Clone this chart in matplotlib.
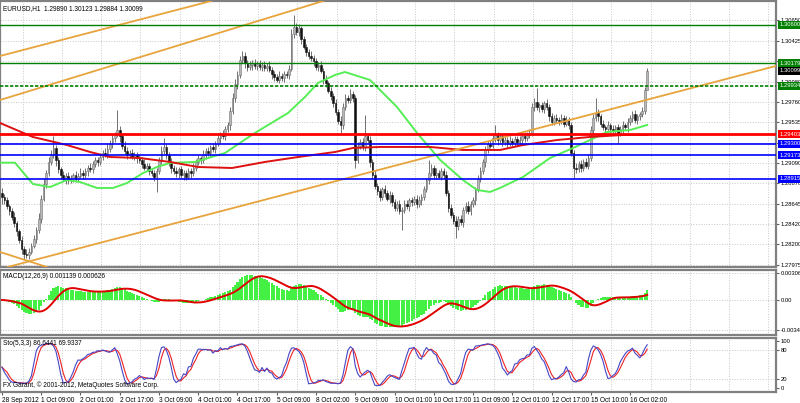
import numpy as np
import pandas as pd
import matplotlib
matplotlib.use("Agg")
import matplotlib.pyplot as plt
import matplotlib.transforms as mtransforms

plt.rcParams['font.family'] = ['Liberation Sans', 'DejaVu Sans']

# EURUSD H1 closes, in pips above 1.2800 (bar 0 = 28 Sep 2012)
close_pips = [
    72, 68, 62, 57, 50, 43, 35, 25, 15, 10,
    8, 12, 18, 26, 36, 48, 70, 86, 98, 110,
    118, 125, 112, 102, 96, 92, 95, 90, 93, 96,
    92, 95, 98, 96, 100, 104, 102, 108, 112, 110,
    116, 120, 118, 124, 130, 136, 140, 145, 138, 128,
    122, 118, 120, 116, 118, 114, 112, 108, 104, 106,
    100, 98, 94, 100, 112, 122, 126, 118, 110, 104,
    100, 98, 102, 96, 98, 94, 100, 98, 104, 110,
    114, 112, 118, 122, 120, 126, 124, 130, 136, 140,
    138, 146, 150, 166, 180, 195, 205, 222, 226, 218,
    214, 216, 218, 215, 217, 214, 216, 213, 215, 211,
    206, 203, 200, 204, 202, 206, 205, 212, 250, 258,
    252, 256, 244, 236, 230, 226, 224, 220, 214, 216,
    210, 200, 196, 188, 182, 175, 165, 155, 150, 170,
    180, 178, 184, 180, 112, 128, 132, 126, 138, 134,
    110, 96, 84, 78, 72, 80, 76, 70, 74, 66,
    60, 64, 56, 58, 64, 62, 68, 66, 70, 64,
    68, 72, 80, 90, 98, 104, 96, 98, 94, 100,
    96, 76, 60, 52, 46, 40, 48, 44, 58, 62,
    56, 64, 68, 80, 92, 100, 110, 124, 130, 128,
    136, 140, 134, 138, 132, 134, 130, 133, 131, 135,
    132, 134, 138, 136, 140, 142, 170, 176, 170, 172,
    168, 174, 170, 160, 154, 158, 156, 155, 158, 152,
    156, 150, 120, 104, 102, 108, 104, 110, 106, 114,
    145, 158, 164, 160, 152, 148, 146, 150, 146, 144,
    148, 142, 146, 150, 148, 154, 158, 162, 156, 160,
    162, 166, 189, 209.9,
]
first_open_pips = 76

# wick lengths in pips above the body top / below the body bottom
wick_up = [
    6, 3, 4, 2, 3, 5, 3, 2, 4, 3, 5, 4, 3, 4, 3, 6, 4, 5, 3, 6,
    5, 14, 4, 3, 3, 4, 3, 4, 3, 2, 4, 3, 5, 3, 4, 3, 5, 3, 4, 3,
    4, 3, 5, 6, 4, 5, 3, 22, 4, 3, 5, 4, 3, 4, 3, 3, 4, 3, 5, 3,
    3, 4, 3, 4, 3, 5, 10, 4, 3, 4, 3, 5, 3, 4, 3, 3, 4, 3, 5, 3,
    4, 3, 5, 3, 4, 3, 5, 3, 4, 3, 5, 3, 4, 4, 5, 6, 4, 4, 5, 4,
    3, 4, 3, 5, 3, 4, 3, 4, 3, 5, 3, 4, 3, 5, 3, 4, 3, 4, 5, 13,
    4, 5, 3, 4, 3, 4, 5, 3, 4, 3, 4, 3, 5, 3, 4, 3, 4, 3, 5, 4,
    4, 3, 6, 4, 3, 4, 3, 4, 23, 3, 4, 3, 5, 3, 4, 3, 5, 3, 4, 3,
    4, 3, 5, 3, 4, 5, 3, 4, 3, 4, 5, 3, 4, 3, 14, 4, 3, 5, 3, 4,
    3, 4, 3, 4, 3, 5, 3, 4, 3, 4, 5, 3, 4, 3, 4, 5, 3, 4, 3, 4,
    4, 10, 3, 4, 3, 4, 3, 5, 3, 4, 3, 4, 3, 5, 3, 4, 5, 4, 15, 3,
    4, 3, 5, 3, 4, 3, 4, 3, 5, 3, 4, 3, 4, 3, 5, 3, 4, 3, 4, 5,
    4, 5, 16, 4, 3, 4, 3, 5, 3, 4, 3, 4, 3, 5, 3, 4, 3, 4, 5, 3,
    3, 4, 3, 2.4,
]
wick_dn = [
    8, 4, 3, 5, 3, 4, 6, 3, 5, 6, 3, 4, 3, 2, 4, 3, 5, 3, 4, 3,
    3, 4, 6, 4, 5, 3, 6, 4, 3, 5, 4, 3, 2, 4, 3, 5, 3, 4, 3, 4,
    3, 4, 3, 4, 3, 5, 4, 3, 6, 4, 3, 5, 4, 3, 4, 5, 3, 4, 3, 4,
    4, 3, 5, 17, 3, 4, 3, 5, 4, 6, 3, 4, 5, 3, 6, 4, 3, 5, 3, 4,
    3, 4, 3, 5, 3, 4, 3, 4, 3, 5, 3, 4, 3, 5, 3, 4, 5, 3, 4, 5,
    4, 3, 5, 3, 4, 3, 5, 3, 4, 3, 5, 4, 3, 4, 3, 5, 3, 4, 3, 4,
    3, 4, 5, 3, 4, 3, 4, 5, 3, 4, 3, 5, 4, 3, 4, 5, 4, 3, 8, 4,
    3, 4, 3, 4, 8, 3, 4, 3, 4, 3, 5, 4, 3, 4, 5, 3, 4, 3, 5, 4,
    3, 4, 3, 20, 4, 3, 5, 4, 3, 4, 3, 5, 4, 3, 4, 3, 5, 4, 3, 4,
    4, 3, 5, 3, 4, 13, 4, 3, 5, 4, 3, 4, 3, 5, 3, 4, 3, 5, 4, 3,
    3, 4, 5, 3, 4, 3, 5, 3, 4, 3, 4, 3, 5, 4, 3, 4, 3, 4, 3, 5,
    3, 4, 3, 5, 3, 4, 3, 5, 3, 4, 3, 4, 3, 11, 4, 3, 5, 4, 3, 4,
    3, 4, 3, 5, 4, 3, 5, 3, 4, 3, 4, 11, 3, 4, 3, 5, 3, 4, 3, 4,
    4, 3, 4, 0.6,
]

time_labels = ["28 Sep 2012", "1 Oct 09:00", "2 Oct 01:00", "2 Oct 17:00", "3 Oct 09:00",
               "4 Oct 01:00", "4 Oct 17:00", "5 Oct 09:00", "8 Oct 02:00", "9 Oct 09:00",
               "10 Oct 01:00", "10 Oct 17:00", "11 Oct 09:00", "12 Oct 01:00", "12 Oct 17:00",
               "15 Oct 10:00", "16 Oct 02:00"]
label_bars = [16 * k for k in range(len(time_labels))]
vgrid_bars = [8.4 + 16 * k for k in range(20)]

price_ticks = [1.30650, 1.30425, 1.30200, 1.29980, 1.29760, 1.29535, 1.29310,
               1.29090, 1.28870, 1.28645, 1.28420, 1.28200, 1.27975]

# horizontal level objects
level_prices = [1.30600, 1.30179, 1.29934, 1.29403, 1.29300, 1.29173, 1.28915]
level_colors = ['#008000', '#008000', '#008000', '#ff0000', '#0000ff', '#0000ff', '#0000ff']
level_widths = [1.0, 1.0, 1.2, 2.0, 1.2, 1.2, 1.2]
level_styles = ['-', '-', (0, (2, 1)), '-', '-', '-', '-']

# trend lines: two anchors each (bar, price)
trend_lines = [
    ((-0.8, 1.30259), (86.8, 1.30871)),
    ((-0.8, 1.29778), (129.6, 1.30849)),
    ((-0.8, 1.27931), (315.5, 1.30150)),
    ((-0.8, 1.28117), (19.6, 1.27942)),
]

# moving averages
green_ma_bars = [-0.8, 5.3, 12.6, 19.6, 26.5, 31.8, 38.7, 45.3, 51, 57.5, 63.2, 68.5, 78.7,
                 90.9, 103.1, 116.6, 123.5, 128.8, 135.8, 139.8, 150, 161, 169.2, 178.6,
                 187.9, 193.6, 198.9, 203, 212.4, 223.4, 232.8, 239.7, 246.6, 256, 263]
green_ma_vals = [1.29093, 1.29093, 1.28860, 1.28827, 1.28904, 1.28882, 1.28817, 1.28817,
                 1.28871, 1.28980, 1.29046, 1.29090, 1.29101, 1.29199, 1.29418, 1.29636,
                 1.29811, 1.29964, 1.30052, 1.30084, 1.29997, 1.29702, 1.29418, 1.29123,
                 1.28904, 1.28795, 1.28773, 1.28817, 1.28937, 1.29144, 1.29254, 1.29341,
                 1.29429, 1.29450, 1.29505]
red_ma_bars = [-0.8, 12.6, 26.5, 35.9, 44, 56.3, 68.5, 79.9, 93.8, 107.2, 120.7, 135.8,
               143.1, 154.1, 174.5, 187.9, 203, 212.4, 226.3, 239.7, 253.2, 263]
red_ma_vals = [1.29527, 1.29374, 1.29286, 1.29210, 1.29155, 1.29144, 1.29101, 1.29046,
               1.29035, 1.29101, 1.29155, 1.29210, 1.29254, 1.29265, 1.29265, 1.29232,
               1.29232, 1.29286, 1.29341, 1.29374, 1.29396, 1.29396]

# ---- OHLC ----
c = 1.28 + np.array(close_pips) / 10000.0
o = np.concatenate([[1.28 + first_open_pips / 10000.0], c[:-1]])
h = np.maximum(o, c) + np.array(wick_up) / 10000.0
l = np.minimum(o, c) - np.array(wick_dn) / 10000.0
n = len(c)
idx = np.arange(n)

# indicators
cs = pd.Series(c)
macd = cs.ewm(span=12, adjust=False).mean() - cs.ewm(span=26, adjust=False).mean()
macd_sig = macd.rolling(9, min_periods=1).mean()
ll = pd.Series(l).rolling(5, min_periods=1).min()
hh = pd.Series(h).rolling(5, min_periods=1).max()
k = 100 * (cs - ll).rolling(3, min_periods=1).sum() / (hh - ll).rolling(3, min_periods=1).sum()
d = k.rolling(3, min_periods=1).mean()

# ---- layout in pixels ----
W, H = 800, 403
def box(x0, y0, x1, y1):
    return [x0 / W, 1 - y1 / H, (x1 - x0) / W, (y1 - y0) / H]

fig = plt.figure(figsize=(8, 4.03), dpi=100)
ax = fig.add_axes(box(0, 1, 776, 267))
axm = fig.add_axes(box(0, 270, 776, 335), sharex=ax)
axs = fig.add_axes(box(0, 338, 776, 392), sharex=ax)

fs = 4.7
fs_r = 4.2
for a in (ax, axm, axs):
    a.set_facecolor('white')
    for s in a.spines.values():
        s.set_color('#808080')
        s.set_linewidth(1.6)
    a.yaxis.tick_right()
    a.tick_params(axis='y', length=2, pad=1.2, labelsize=fs_r, color='#606060')
    for gb in vgrid_bars:
        a.axvline(gb, color='#c8c8c8', lw=0.7, ls=':', zorder=0)
ax.set_xlim(-0.8, 315.5)

# main chart
ax.set_ylim(1.27953, 1.30860)
ax.set_yticks(price_ticks)
ax.set_yticklabels(['%.5f' % p for p in price_ticks])
for p in price_ticks:
    ax.axhline(p, color='#c8c8c8', lw=0.7, ls=':', zorder=0)
ax.tick_params(axis='x', bottom=False, labelbottom=False)

for (p1, p2) in trend_lines:
    ax.axline(p1, p2, color='#e8a43c', lw=1.3, zorder=4)

up = c >= o
ax.vlines(idx, l, h, color='#707070', lw=0.7, zorder=2)
body_h = np.maximum(np.abs(c - o), 0.00003)
ax.bar(idx[up], body_h[up], bottom=np.minimum(o, c)[up], width=0.65,
       color='#b8b8b8', edgecolor='#707070', lw=0.4, zorder=2.1)
ax.bar(idx[~up], body_h[~up], bottom=np.minimum(o, c)[~up], width=0.65,
       color='#111111', edgecolor='#111111', lw=0.4, zorder=2.1)

ax.plot(green_ma_bars, green_ma_vals, color='#55ee55', lw=1.4, zorder=3)
ax.plot(red_ma_bars, red_ma_vals, color='#dd1111', lw=1.4, zorder=3)

for p, col, lw, ls in zip(level_prices, level_colors, level_widths, level_styles):
    ax.axhline(p, color=col, lw=lw, ls=ls, zorder=4)

blend = mtransforms.blended_transform_factory(ax.transAxes, ax.transData)
box_prices = level_prices + [c[-1]]
box_colors = level_colors + ['#000000']
for p, col in zip(box_prices, box_colors):
    ax.text(1.004, p, '%.5f' % p, transform=blend, ha='left', va='center', fontsize=fs_r,
            color='white', clip_on=False, zorder=10,
            bbox=dict(boxstyle='square,pad=0.25', fc=col, ec='none'))

ax.text(0.004, 0.985, 'EURUSD,H1  %.5f %.5f %.5f %.5f' % (o[-1], h[-1], l[-1], c[-1]),
        transform=ax.transAxes, ha='left', va='top', fontsize=fs)

# MACD
axm.set_ylim(-0.00397, 0.0034)
macd_ticks = [0.00306, 0.0, -0.00342]
axm.set_yticks(macd_ticks)
axm.set_yticklabels(['0.00306', '0.00', '-0.00342'])
for p in macd_ticks:
    axm.axhline(p, color='#c8c8c8', lw=0.7, ls=':', zorder=0)
axm.bar(idx, macd, width=0.85, color='#44f044', lw=0, zorder=2)
axm.plot(idx, macd_sig, color='#e00000', lw=1.4, zorder=3)
axm.tick_params(axis='x', bottom=False, labelbottom=False)
axm.text(0.004, 0.96, 'MACD(12,26,9) 0.001139 0.000626', transform=axm.transAxes,
         ha='left', va='top', fontsize=fs)

# Stochastic
axs.set_ylim(-8.5, 106.4)
axs.set_yticks([100, 80, 20, 0])
for lev in (80, 20):
    axs.axhline(lev, color='#c8c8c8', lw=0.7, ls=':', zorder=0)
axs.plot(idx, k, color='#4646c8', lw=0.8, zorder=3)
axs.plot(idx, d, color='#ee2222', lw=0.8, zorder=2.5)
axs.text(0.004, 0.96, 'Sto(5,3,3) 86.6441 69.9337', transform=axs.transAxes,
         ha='left', va='top', fontsize=fs)
axs.text(0.004, 0.06, 'FX Garant, \u00a9 2001-2012, MetaQuotes Software Corp.',
         transform=axs.transAxes, ha='left', va='bottom', fontsize=fs)
axs.set_xticks(label_bars)
axs.set_xticklabels(time_labels, ha='left')
axs.tick_params(axis='x', length=2, pad=1.5, labelsize=fs, color='#606060')

fig.savefig('out.png', dpi=100, facecolor='white')
